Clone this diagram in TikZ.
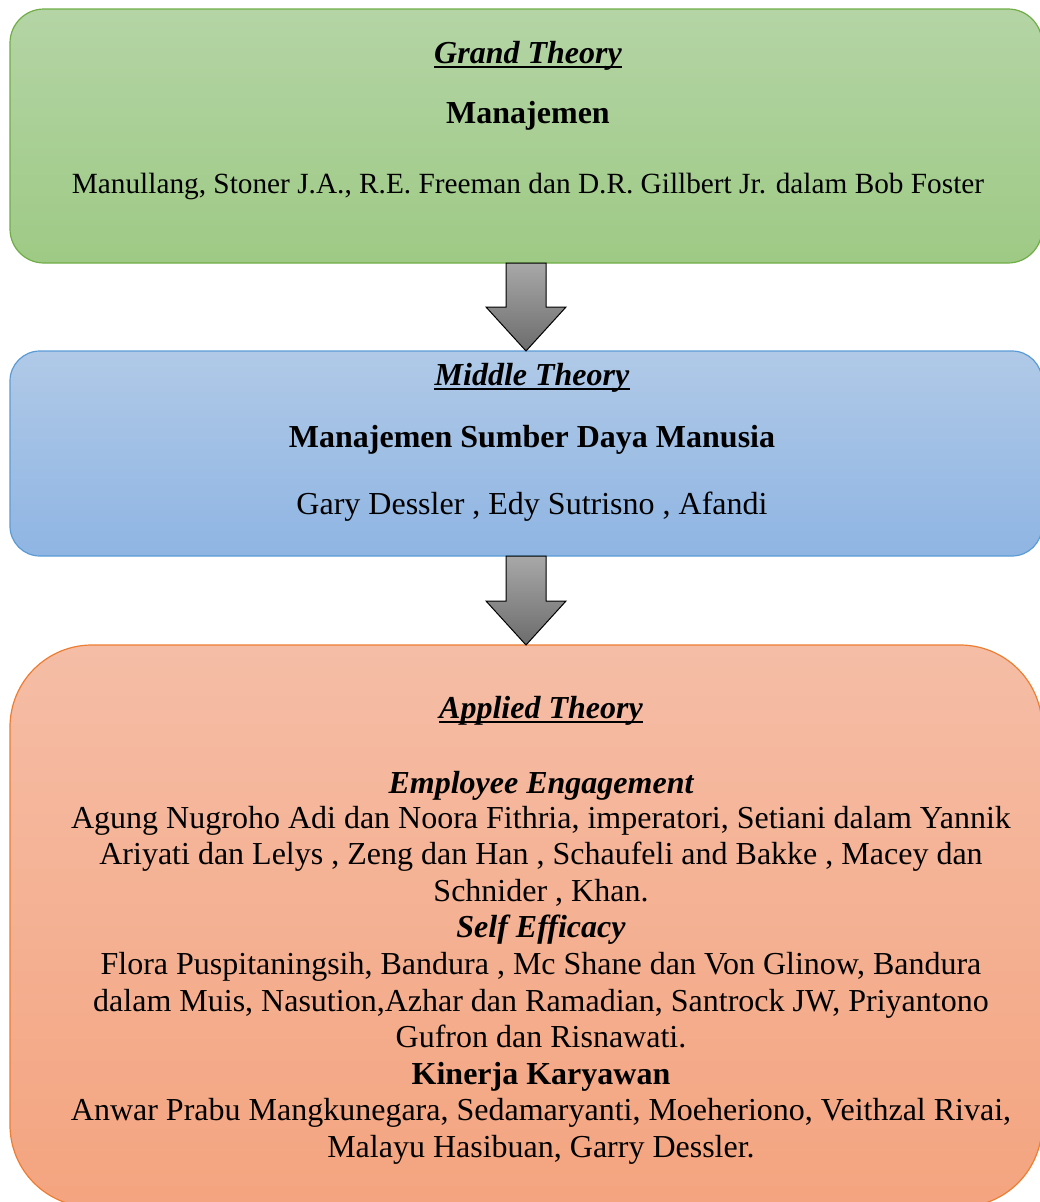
\documentclass[tikz,border=0pt]{standalone}
\usepackage{fontspec}
\setmainfont{Liberation Serif}
\usetikzlibrary{calc}
\definecolor{gtop}{HTML}{B4D4A5}
\definecolor{gbot}{HTML}{9ECA85}
\definecolor{gline}{HTML}{70AD47}
\definecolor{btop}{HTML}{B0C9E7}
\definecolor{bbot}{HTML}{8FB5E3}
\definecolor{bline}{HTML}{5B9BD5}
\definecolor{otop}{HTML}{F5BDA6}
\definecolor{obot}{HTML}{F4A47F}
\definecolor{oline}{HTML}{ED7D31}
\definecolor{atop}{HTML}{A8A8A8}
\definecolor{abot}{HTML}{6C6C6C}
\begin{document}
\begin{tikzpicture}[x=1pt,y=-1pt,
  theorybox/.style={line width=1.2pt, minimum width=1032pt, inner sep=0pt, outer sep=0pt},
  headtxt/.style={font=\fontsize{32}{37}\selectfont\bfseries\itshape, inner sep=0pt, anchor=base},
  subtxt/.style={font=\fontsize{32}{37}\selectfont\bfseries, inner sep=0pt, anchor=base},
  subittxt/.style={font=\fontsize{32}{37}\selectfont\bfseries\itshape, inner sep=0pt, anchor=base},
  bodytxt/.style={font=\fontsize{29.3}{34}\selectfont, inner sep=0pt, anchor=base},
  mbodytxt/.style={font=\fontsize{32}{37}\selectfont, inner sep=0pt, anchor=base},
  obodytxt/.style={font=\fontsize{32}{37}\selectfont, inner sep=0pt, anchor=base},
  uline/.style={line width=2.2pt},
  blockarrow/.style={draw=black, line width=1pt, top color=atop, bottom color=abot, line join=miter}]
\useasboundingbox (0,0) rectangle (1040,1202);
\begin{scope}
\clip (0,0) rectangle (1040,1202);
% boxes
\node[theorybox, draw=gline, top color=gtop, bottom color=gbot, rounded corners=34pt, minimum height=254pt] (grand) at (526,136) {};
\node[theorybox, draw=bline, top color=btop, bottom color=bbot, rounded corners=30pt, minimum height=205pt] (middle) at (526,453.5) {};
\node[theorybox, draw=oline, top color=otop, bottom color=obot, rounded corners=82pt, minimum height=562pt] (applied) at (526,926) {};
% block arrows
\draw[blockarrow] ($(grand.south)+(-20,0)$) -- ($(grand.south)+(20,0)$) -- ($(grand.south)+(20,44)$) -- ($(grand.south)+(40,44)$) -- (middle.north) -- ($(grand.south)+(-40,44)$) -- ($(grand.south)+(-20,44)$) -- cycle;
\draw[blockarrow] ($(middle.south)+(-20,0)$) -- ($(middle.south)+(20,0)$) -- ($(middle.south)+(20,45)$) -- ($(middle.south)+(40,45)$) -- (applied.north) -- ($(middle.south)+(-40,45)$) -- ($(middle.south)+(-20,45)$) -- cycle;
\end{scope}
% grand theory texts
\node[headtxt] (gt) at (528,63) {Grand Theory};
\draw[uline] ($(gt.base west)+(0,4)$) -- ($(gt.base east)+(0,4)$);
\node[subtxt] (gm) at (528,123) {Manajemen};
\node[bodytxt] (ga) at (528,193) {Manullang, Stoner J.A., R.E. Freeman dan D.R. Gillbert Jr. dalam Bob Foster};
% middle theory texts
\node[headtxt] (mt) at (532,385) {Middle Theory};
\draw[uline] ($(mt.base west)+(0,4)$) -- ($(mt.base east)+(0,4)$);
\node[subtxt] (mm) at (532,447) {Manajemen Sumber Daya Manusia};
\node[mbodytxt] (ma) at (532,514) {Gary Dessler , Edy Sutrisno , Afandi};
% applied theory texts
\node[headtxt] (at) at (541,718) {Applied Theory};
\draw[uline] ($(at.base west)+(0,4)$) -- ($(at.base east)+(0,4)$);
\node[subittxt] (ee) at (541,793) {Employee Engagement};
\node[obodytxt] (ee1) at (541,828) {Agung Nugroho Adi dan Noora Fithria, imperatori, Setiani dalam Yannik};
\node[obodytxt] (ee2) at (541,864.6) {Ariyati dan Lelys , Zeng dan Han , Schaufeli and Bakke , Macey dan};
\node[obodytxt] (ee3) at (541,901.2) {Schnider , Khan.};
\node[subittxt] (se) at (541,937.8) {Self Efficacy};
\node[obodytxt] (se1) at (541,974.4) {Flora Puspitaningsih, Bandura , Mc Shane dan Von Glinow, Bandura};
\node[obodytxt] (se2) at (541,1011) {dalam Muis, Nasution,Azhar dan Ramadian, Santrock JW, Priyantono};
\node[obodytxt] (se3) at (541,1047.6) {Gufron dan Risnawati.};
\node[subtxt] (kk) at (541,1084.2) {Kinerja Karyawan};
\node[obodytxt] (kk1) at (541,1120.8) {Anwar Prabu Mangkunegara, Sedamaryanti, Moeheriono, Veithzal Rivai,};
\node[obodytxt] (kk2) at (541,1157.4) {Malayu Hasibuan, Garry Dessler.};
\end{tikzpicture}
\end{document}
